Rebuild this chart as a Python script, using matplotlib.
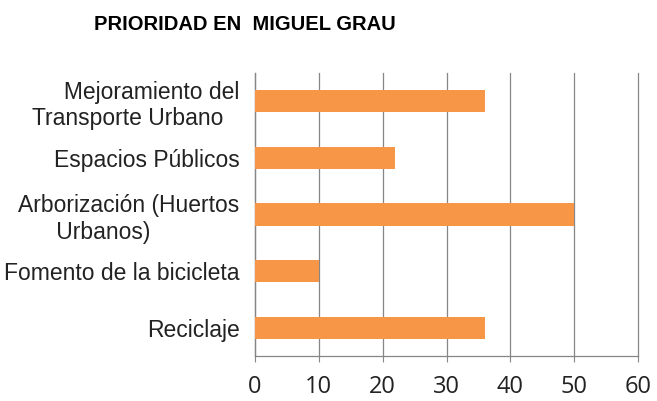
import matplotlib
matplotlib.use("Agg")
import matplotlib.pyplot as plt

categories = ["     Mejoramiento del\nTransporte Urbano", "Espacios Públicos",
              "Arborización (Huertos\n      Urbanos)", "Fomento de la bicicleta", "Reciclaje"]
values = [36, 22, 50, 10, 36]
xticks = [0, 10, 20, 30, 40, 50, 60]
title = "PRIORIDAD EN  MIGUEL GRAU"

fig = plt.figure(figsize=(6.57, 4.01), dpi=100)
ax = fig.add_axes([255/657, 1-356/401, (638-255)/657, (356-73)/401])

ypos = list(range(len(categories)))[::-1]
ax.barh(ypos, values, height=0.39, color="#F79646", zorder=3)
ax.set_ylim(-0.5, 4.5)
ax.set_xlim(0, 60)
ax.set_xticks(xticks)
ax.set_xticklabels([str(t) for t in xticks], fontsize=17, family=["Open Sans", "DejaVu Sans"], color="#222222")
ax.set_yticks(ypos)
ax.set_yticklabels(categories, fontsize=16.5, family=["Liberation Sans", "DejaVu Sans"],
                   color="#222222", multialignment="left")
ax.tick_params(axis="y", length=0, pad=11)
ax.tick_params(axis="x", length=4, color="#868686", pad=10, width=0.8)
ax.grid(axis="x", color="#868686", linewidth=0.9, zorder=0)
for line in ax.get_xgridlines():
    line.set_clip_on(False)
for s in ["top", "right"]:
    ax.spines[s].set_visible(False)
for s in ["left", "bottom"]:
    ax.spines[s].set_color("#868686")
    ax.spines[s].set_linewidth(0.9)

fig.text(245/657, 1-25/401, title, ha="center", va="center", fontsize=14.5, fontweight="bold",
         family=["Liberation Sans", "DejaVu Sans"])

fig.savefig("out.png", dpi=100, facecolor="white")
